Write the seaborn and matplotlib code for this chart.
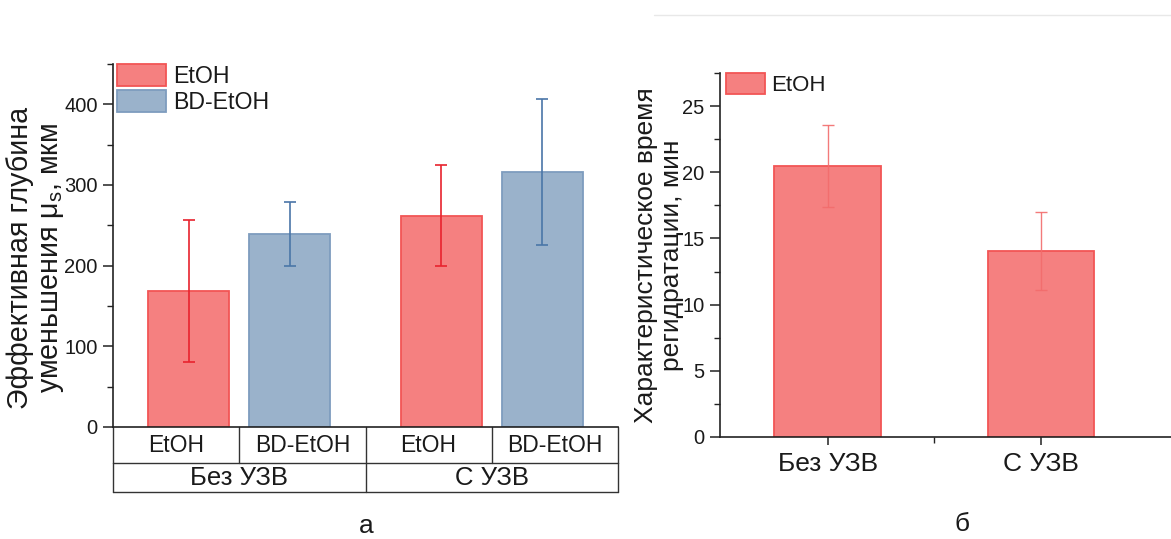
import numpy as np
import pandas as pd
import matplotlib
matplotlib.use("Agg")
import matplotlib.pyplot as plt
from matplotlib.lines import Line2D
import matplotlib.transforms as mtransforms
from matplotlib.ticker import MultipleLocator
import seaborn as sns

# ---------------- data ----------------
groups = ["Без УЗВ", "С УЗВ"]
solvents = ["EtOH", "BD-EtOH"]
depth_etoh = [168, 262]
depth_etoh_err = [88, 63]
depth_bd = [239, 316]
depth_bd_err = [40, 90]
time_etoh = [20.5, 14.05]
time_etoh_err = [3.1, 2.95]

ylabel_a = "Эффективная глубина\nуменьшения μ$_\\mathregular{s}$, мкм"
ylabel_b = "Характеристическое время\nрегидратации, мин"
panel_a = "а"
panel_b = "б"

# ---------------- style ----------------
sns.set_style("ticks")
plt.rcParams["font.family"] = ["Liberation Sans", "DejaVu Sans"]
plt.rcParams["mathtext.default"] = "regular"
plt.rcParams["axes.edgecolor"] = "#222222"
plt.rcParams["axes.linewidth"] = 1.2

red_face = "#F58080"
red_edge = "#F25555"
red_err = "#E8232E"
blue_face = "#9AB2CB"
blue_edge = "#7E9CBE"
blue_err = "#4A76A8"
text_c = "#1a1a1a"

fig = plt.figure(figsize=(11.71, 5.39), dpi=100)
W, H = 1171, 539

def axes_rect(x0, x1, ytop, ybot):
    return [x0 / W, 1 - ybot / H, (x1 - x0) / W, (ybot - ytop) / H]

ax1 = fig.add_axes(axes_rect(113, 618, 64, 427))
ax2 = fig.add_axes(axes_rect(720, 1171, 73, 437))

# ---------------- panel a ----------------
df = pd.DataFrame({
    "group": groups * 2,
    "solvent": [solvents[0]] * len(groups) + [solvents[1]] * len(groups),
    "value": depth_etoh + depth_bd,
})
errs = {solvents[0]: depth_etoh_err, solvents[1]: depth_bd_err}

sns.barplot(data=df, x="group", y="value", hue="solvent", order=groups,
            hue_order=solvents, palette=[red_face, blue_face], saturation=1,
            width=0.8, gap=0.2, errorbar=None, legend=False, ax=ax1,
            linewidth=1.3)

bar_conts1 = list(ax1.containers)
edges = [red_edge, blue_edge]
ecols = [red_err, blue_err]
for i, cont in enumerate(bar_conts1):
    for bar, e in zip(cont.patches, errs[solvents[i]]):
        bar.set_edgecolor(edges[i])
        xc = bar.get_x() + bar.get_width() / 2
        ax1.errorbar(xc, bar.get_height(), yerr=e, fmt="none", ecolor=ecols[i],
                     elinewidth=1.2, capsize=4, capthick=1.2, zorder=5)

ax1.set_ylim(0, 450)
ax1.set_xlim(-0.5, 1.5)
ax1.yaxis.set_major_locator(MultipleLocator(100))
ax1.yaxis.set_minor_locator(MultipleLocator(50))
ax1.tick_params(axis="y", which="major", direction="out", length=7, width=1.1,
                labelsize=14.5, colors="#222222", labelcolor=text_c, pad=4)
ax1.tick_params(axis="y", which="minor", direction="out", length=4, width=1.0,
                colors="#222222")
ax1.tick_params(axis="x", which="both", length=0, labelbottom=False)
ax1.set_xlabel("")
ax1.set_ylabel(ylabel_a, fontsize=20.6, color=text_c, linespacing=1.12)
ax1.yaxis.label.set_verticalalignment("center")
ax1.yaxis.set_label_coords((36 - 113) / 505, 0.466)
sns.despine(ax=ax1)

leg1 = ax1.legend(handles=[c.patches[0] for c in bar_conts1], labels=solvents,
                  loc="upper left", bbox_to_anchor=(0.008, 1.0), frameon=False,
                  fontsize=16.7, handlelength=2.1, handleheight=1.05,
                  labelspacing=0.12, handletextpad=0.3, borderpad=0,
                  borderaxespad=0)
for t in leg1.get_texts():
    t.set_color(text_c)

# two-level category table below panel a
trans = mtransforms.blended_transform_factory(ax1.transData, ax1.transAxes)
r1 = -(463 - 427) / (427 - 64)
r2 = -(492 - 427) / (427 - 64)
lc = "#333333"
lw = 1.0
for xb in [-0.5, 0.0, 0.5, 1.0, 1.5]:
    ax1.add_line(Line2D([xb, xb], [0, r1], transform=trans, color=lc, lw=lw, clip_on=False))
for xb in [-0.5, 0.5, 1.5]:
    ax1.add_line(Line2D([xb, xb], [r1, r2], transform=trans, color=lc, lw=lw, clip_on=False))
for yb in [r1, r2]:
    ax1.add_line(Line2D([-0.5, 1.5], [yb, yb], transform=trans, color=lc, lw=lw, clip_on=False))
for gi, g in enumerate(groups):
    for si, s in enumerate(solvents):
        xc = gi - 0.25 + 0.5 * si
        ax1.text(xc, r1 / 2, s, transform=trans, ha="center", va="center",
                 fontsize=16.5, color=text_c, clip_on=False)
    ax1.text(gi, (r1 + r2) / 2, g, transform=trans, ha="center", va="center",
             fontsize=18.5, color=text_c, clip_on=False)

# ---------------- panel b ----------------
sns.barplot(x=groups, y=time_etoh, color=red_face, saturation=1, width=0.5,
            errorbar=None, ax=ax2, linewidth=1.3, edgecolor=red_edge)
bar_conts2 = list(ax2.containers)
for bar, e in zip(bar_conts2[0].patches, time_etoh_err):
    xc = bar.get_x() + bar.get_width() / 2
    ax2.errorbar(xc, bar.get_height(), yerr=e, fmt="none", ecolor="#F26C6C",
                 elinewidth=1.0, capsize=4, capthick=1.0, zorder=5, alpha=0.9)

ax2.set_ylim(0, 27.5)
ax2.set_xlim(-0.505, 1.61)
ax2.yaxis.set_major_locator(MultipleLocator(5))
ax2.yaxis.set_minor_locator(MultipleLocator(2.5))
ax2.set_xticks([0.5], minor=True)
ax2.tick_params(axis="y", which="major", direction="out", length=7, width=1.1,
                labelsize=14.5, colors="#222222", labelcolor=text_c, pad=4)
ax2.tick_params(axis="y", which="minor", direction="out", length=4, width=1.0,
                colors="#222222")
ax2.tick_params(axis="x", which="major", direction="out", length=6, width=1.1,
                labelsize=19, colors="#222222", labelcolor=text_c, pad=5)
ax2.tick_params(axis="x", which="minor", direction="out", length=4, width=1.0,
                colors="#222222")
ax2.set_ylabel(ylabel_b, fontsize=19, color=text_c, linespacing=1.12)
ax2.yaxis.label.set_verticalalignment("center")
ax2.yaxis.set_label_coords((659 - 720) / 451, 0.5)
sns.despine(ax=ax2)

leg2 = ax2.legend(handles=[bar_conts2[0].patches[0]], labels=[solvents[0]],
                  loc="upper left", bbox_to_anchor=(0.013, 1.0), frameon=False,
                  fontsize=16, handlelength=1.75, handleheight=1.05,
                  handletextpad=0.3, borderpad=0, borderaxespad=0)
for t in leg2.get_texts():
    t.set_color(text_c)

# panel letters and top rule
fig.text(366 / W, 1 - 526 / H, panel_a, ha="center", va="center", fontsize=19, color=text_c)
fig.text(962 / W, 1 - 524 / H, panel_b, ha="center", va="center", fontsize=19, color=text_c)
fig.add_artist(Line2D([654 / W, 1.0], [1 - 15 / H, 1 - 15 / H], transform=fig.transFigure,
                      color="#e8e8e8", lw=1.0))

fig.savefig("out.png", dpi=100, facecolor="white")
